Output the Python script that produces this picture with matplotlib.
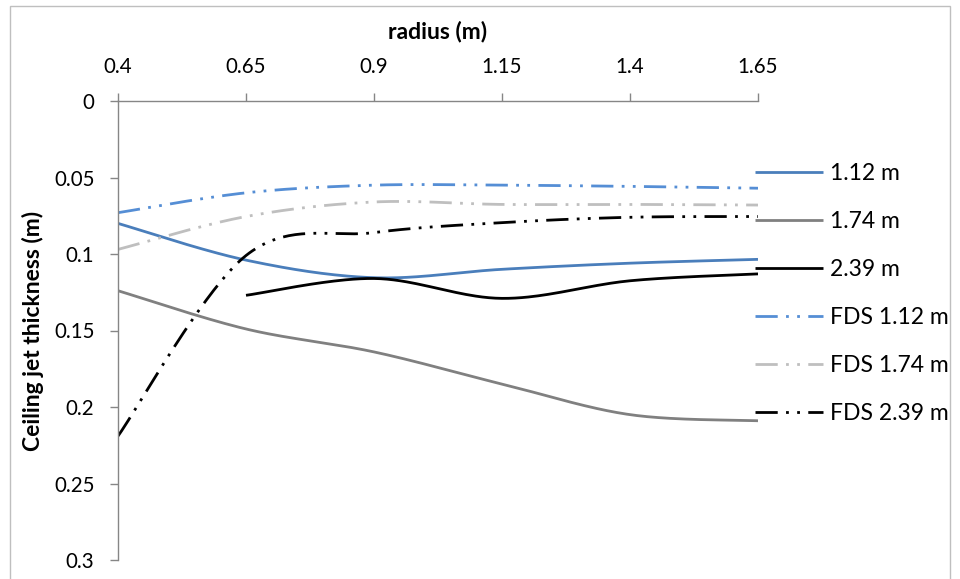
import numpy as np
import matplotlib
matplotlib.use("Agg")
import matplotlib.pyplot as plt
from matplotlib.patches import Rectangle

plt.rcParams['font.family'] = ['Lato', 'DejaVu Sans']

# radius positions (m)
radius = [0.4, 0.65, 0.9, 1.15, 1.4, 1.65]
radius_239 = [0.65, 0.9, 1.15, 1.4, 1.65]

# ceiling jet thickness (m)
meas_112 = [0.080, 0.104, 0.1155, 0.110, 0.106, 0.1035]
meas_174 = [0.124, 0.149, 0.164, 0.185, 0.205, 0.209]
meas_239 = [0.127, 0.116, 0.129, 0.1175, 0.113]
fds_112 = [0.073, 0.060, 0.055, 0.055, 0.0558, 0.057]
fds_174 = [0.097, 0.0755, 0.066, 0.0676, 0.0676, 0.068]
fds_239 = [0.219, 0.101, 0.086, 0.0795, 0.076, 0.0755]

x_ticks = [0.4, 0.65, 0.9, 1.15, 1.4, 1.65]
y_ticks = [0, 0.05, 0.1, 0.15, 0.2, 0.25, 0.3]


def smooth(xs, ys, n=40):
    """Bezier smoothing through the points (Catmull-Rom style control points)."""
    p = np.column_stack([xs, ys]).astype(float)
    m = len(p)
    out = [p[0]]
    for i in range(m - 1):
        p0 = p[i - 1] if i > 0 else p[i]
        p1, p2 = p[i], p[i + 1]
        p3 = p[i + 2] if i + 2 < m else p[i + 1]
        c1 = p1 + (p2 - p0) / 6.0
        c2 = p2 - (p3 - p1) / 6.0
        t = np.linspace(0, 1, n)[1:, None]
        seg = ((1 - t) ** 3) * p1 + 3 * ((1 - t) ** 2) * t * c1 \
            + 3 * (1 - t) * t ** 2 * c2 + t ** 3 * p2
        out.extend(seg)
    out = np.array(out)
    return out[:, 0], out[:, 1]


fig = plt.figure(figsize=(9.6, 5.79), dpi=100)
ax = fig.add_axes([118 / 960, 1 - 560 / 579, 640 / 960, 459 / 579])

ddot = (8, 3, 1, 3, 1, 3)
series = [
    (radius, meas_112, '1.12 m', '#4A7EBB', None),
    (radius, meas_174, '1.74 m', '#808080', None),
    (radius_239, meas_239, '2.39 m', '#000000', None),
    (radius, fds_112, 'FDS 1.12 m', '#558ED5', ddot),
    (radius, fds_174, 'FDS 1.74 m', '#BFBFBF', ddot),
    (radius, fds_239, 'FDS 2.39 m', '#000000', ddot),
]
for xs, ys, lab, col, dash in series:
    sx, sy = smooth(xs, ys)
    line, = ax.plot(sx, sy, color=col, lw=2.0, label=lab,
                    solid_capstyle='butt', dash_capstyle='butt')
    if dash is not None:
        line.set_dashes(dash)

ax.set_xlim(0.4, 1.65)
ax.set_ylim(0.3, 0)
ax.set_xticks(x_ticks)
ax.set_xticklabels([f"{v:g}" for v in x_ticks])
ax.set_yticks(y_ticks)
ax.set_yticklabels([f"{v:g}" for v in y_ticks])

ax.xaxis.set_ticks_position('top')
ax.xaxis.set_label_position('top')
for s in ['right', 'bottom']:
    ax.spines[s].set_visible(False)
for s in ['left', 'top']:
    ax.spines[s].set_color('#868686')
    ax.spines[s].set_linewidth(1.0)
ax.tick_params(axis='both', colors='#868686', labelcolor='black',
               labelsize=14.8, length=6, width=1.0, direction='out', pad=11)
ax.tick_params(axis='x', pad=11)

ax.set_xlabel('radius (m)', fontsize=16.5, fontweight='bold', labelpad=14)
ax.set_ylabel('Ceiling jet thickness (m)', fontsize=16.5, fontweight='bold',
              labelpad=7)

leg = ax.legend(loc='upper left', bbox_to_anchor=(755 / 960, 1 - 163 / 579),
                bbox_transform=fig.transFigure, frameon=False, fontsize=16.5,
                handlelength=2.97, handletextpad=0.3, labelspacing=1.18,
                borderaxespad=0, borderpad=0)

# chart area border
fig.add_artist(Rectangle((10 / 960, -0.01), 940 / 960, 1 - 6 / 579 + 0.01,
                         transform=fig.transFigure, fill=False,
                         edgecolor='#BFBFBF', lw=1.0))

fig.savefig('out.png', dpi=100)
